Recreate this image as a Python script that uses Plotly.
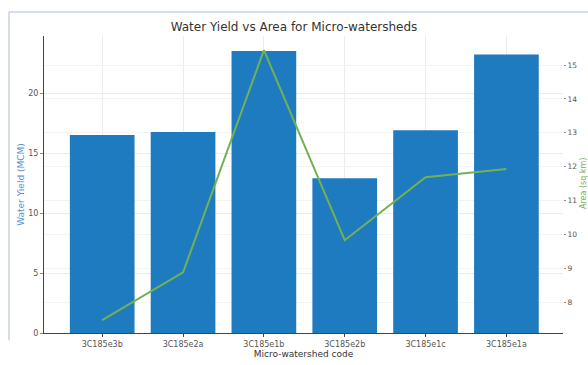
import plotly.graph_objects as go

codes = ["3C185e3b", "3C185e2a", "3C185e1b", "3C185e2b", "3C185e1c", "3C185e1a"]
water_yield = [16.5, 16.75, 23.5, 12.9, 16.9, 23.2]
area = [7.47, 8.88, 15.44, 9.83, 11.69, 11.93]

fig = go.Figure()
fig.add_trace(go.Bar(x=codes, y=water_yield, marker=dict(color="#1f7bbf", line=dict(width=0)),
                     width=0.8, name="Water Yield", yaxis="y"))
fig.add_trace(go.Scatter(x=codes, y=area, mode="lines", line=dict(color="#72b255", width=2),
                         name="Area", yaxis="y2"))

tickfont = dict(family="DejaVu Sans", size=8, color="#555555")
fig.update_layout(
    width=588, height=365,
    margin=dict(l=44, r=25, t=36, b=32, autoexpand=False),
    paper_bgcolor="white", plot_bgcolor="white",
    showlegend=False,
    title=dict(text="Water Yield vs Area for Micro-watersheds", x=0.5, xanchor="center",
               y=0.926, yanchor="middle",
               font=dict(family="DejaVu Sans", size=12, color="#333333")),
    xaxis=dict(range=[-0.72, 5.7], showgrid=True, gridcolor="#ececec", gridwidth=1, automargin=False,
               showline=True, linecolor="#444444", linewidth=1, ticks="outside", ticklen=3,
               tickcolor="#444444", tickfont=tickfont,
               title=dict(text="Micro-watershed code", standoff=3,
                          font=dict(family="DejaVu Sans", size=9, color="#333333"))),
    yaxis=dict(range=[0, 24.75], tickvals=[0, 5, 10, 15, 20], showgrid=True, gridcolor="#ececec",
               automargin=False,
               showline=True, linecolor="#444444", linewidth=1, ticks="outside", ticklen=3,
               tickcolor="#888888", tickfont=tickfont, zeroline=False,
               title=dict(text="Water Yield (MCM)", standoff=2,
                          font=dict(family="DejaVu Sans", size=9, color="#5b8fd0"))),
    yaxis2=dict(range=[7.09, 15.86], tickvals=[8, 9, 10, 11, 12, 13, 14, 15], overlaying="y",
                automargin=False,
                side="right", showgrid=True, gridcolor="#f3f3f3", showline=False, zeroline=False,
                ticks="outside", ticklen=2, tickcolor="#888888",
                tickfont=dict(family="DejaVu Sans", size=7.5, color="#555555")),
    annotations=[
        dict(text="Area (sq km)", xref="paper", yref="paper", x=1.0385, y=0.505,
             xanchor="center", yanchor="middle", textangle=-90, showarrow=False,
             font=dict(family="DejaVu Sans", size=8, color="#72b255")),
    ],
    shapes=[
        dict(type="line", xref="paper", yref="paper", x0=-0.0674, x1=1.06, y0=1.081, y1=1.081,
             line=dict(color="#c9d0ee", width=1.5)),
        dict(type="line", xref="paper", yref="paper", x0=-0.0674, x1=-0.0674, y0=1.081, y1=-0.024,
             line=dict(color="#c9d0ee", width=1.5)),
    ],
)

fig.write_html("out.html", config={"displayModeBar": False},
               post_script="document.body.style.margin='0';document.body.style.overflow='hidden';")
